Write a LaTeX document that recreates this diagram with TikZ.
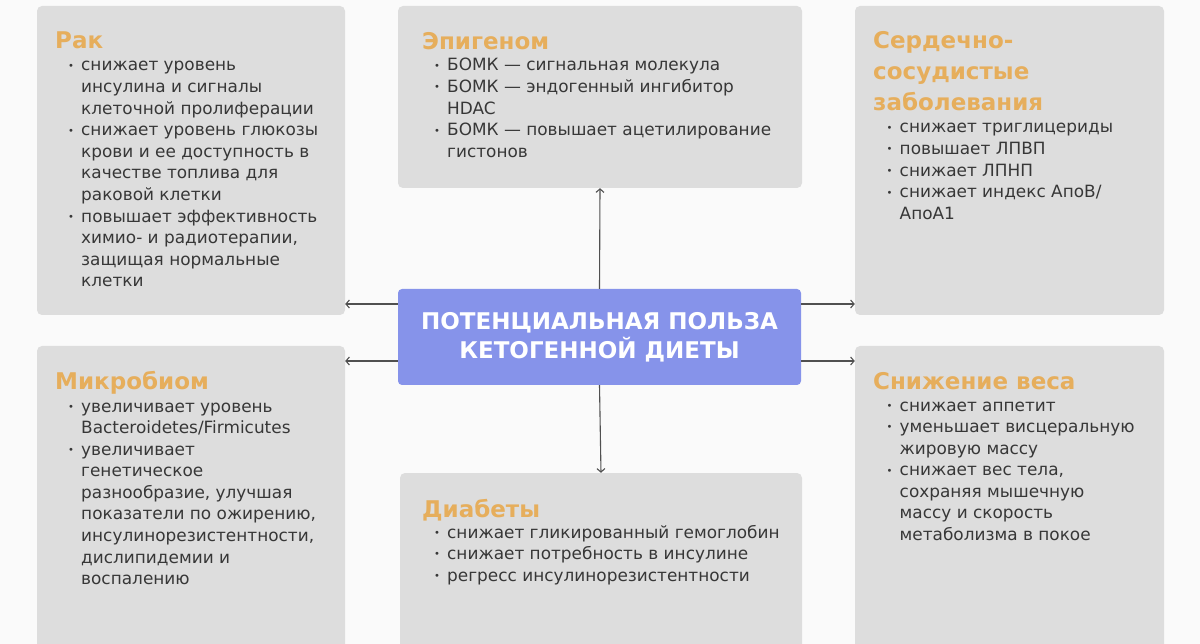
\documentclass[tikz,border=0pt]{standalone}
\usepackage{fontspec}
\setmainfont{DejaVu Sans}
\usetikzlibrary{arrows.meta}
\definecolor{bg}{RGB}{250,250,250}
\definecolor{boxg}{RGB}{221,221,221}
\definecolor{ttl}{RGB}{230,174,92}
\definecolor{txt}{RGB}{55,55,55}
\definecolor{cen}{RGB}{134,147,234}
\definecolor{arrc}{RGB}{80,80,80}
\newcommand\bu{\makebox[13pt][l]{\raisebox{0.1em}{\fontsize{10}{10}\selectfont •}}}
\begin{document}
\begin{tikzpicture}[x=1pt,y=-1pt,
 box/.style={fill=boxg, rounded corners=5pt, inner sep=0pt, draw=none},
 ttlstyle/.style={text=ttl, font=\bfseries\fontsize{23}{31}\selectfont, inner sep=0pt, anchor=base west},
 body/.style={text=txt, font=\fontsize{16.9}{21.6}\selectfont, inner sep=0pt, anchor=base west},
 arr/.style={draw=arrc, line width=1.1pt, -{Straight Barb[length=3.5pt,width=8pt]}},
 cenbox/.style={fill=cen, rounded corners=4pt, text=white, font=\bfseries\fontsize{23}{29}\selectfont, align=center, inner sep=0pt}
]
\fill[bg] (0,0) rectangle (1200,644);
\begin{scope}
\clip (0,0) rectangle (1200,644);
\node[box, minimum width=308pt, minimum height=309pt] (rak) at (191,160.5) {};
\node[box, minimum width=404pt, minimum height=182pt] (epi) at (600,97) {};
\node[box, minimum width=309pt, minimum height=309pt] (cardio) at (1009.5,160.5) {};
\node[box, minimum width=308pt, minimum height=314pt] (micro) at (191,503) {};
\node[box, minimum width=402pt, minimum height=187pt] (dia) at (601,566.5) {};
\node[box, minimum width=309pt, minimum height=314pt] (weight) at (1009.5,503) {};
\end{scope}
\node[cenbox, minimum width=403pt, minimum height=96pt] (cbox) at (599.5,337) {ПОТЕНЦИАЛЬНАЯ ПОЛЬЗА\\КЕТОГЕННОЙ ДИЕТЫ};

% titles
\node[ttlstyle] (rakT) at (55,49) {Рак};
\node[ttlstyle] (epiT) at (422,50) {Эпигеном};
\node[ttlstyle] (cardioT) at (873,49) {\begin{tabular}[t]{@{}l@{}}Сердечно-\\сосудистые\\заболевания\end{tabular}};
\node[ttlstyle] (microT) at (55,389) {Микробиом};
\node[ttlstyle] (diaT) at (422,517) {Диабеты};
\node[ttlstyle] (weightT) at (873,389) {Снижение веса};

% bodies
\node[body] (rakB) at (68,71) {\begin{tabular}[t]{@{}l@{}l@{}}
\bu & снижает уровень\\
 & инсулина и сигналы\\
 & клеточной пролиферации\\
\bu & снижает уровень глюкозы\\
 & крови и ее доступность в\\
 & качестве топлива для\\
 & раковой клетки\\
\bu & повышает эффективность\\
 & химио- и радиотерапии,\\
 & защищая нормальные\\
 & клетки
\end{tabular}};
\node[body] (epiB) at (434,71) {\begin{tabular}[t]{@{}l@{}l@{}}
\bu & БОМК — сигнальная молекула\\
\bu & БОМК — эндогенный ингибитор\\
 & HDAC\\
\bu & БОМК — повышает ацетилирование\\
 & гистонов
\end{tabular}};
\node[body] (cardioB) at (886.5,133) {\begin{tabular}[t]{@{}l@{}l@{}}
\bu & снижает триглицериды\\
\bu & повышает ЛПВП\\
\bu & снижает ЛПНП\\
\bu & снижает индекс АпоВ/\\
 & АпоА1
\end{tabular}};
\node[body] (microB) at (68,412) {\begin{tabular}[t]{@{}l@{}l@{}}
\bu & увеличивает уровень\\
 & Bacteroidetes/Firmicutes\\
\bu & увеличивает\\
 & генетическое\\
 & разнообразие, улучшая\\
 & показатели по ожирению,\\
 & инсулинорезистентности,\\
 & дислипидемии и\\
 & воспалению
\end{tabular}};
\node[body] (diaB) at (434,538) {\begin{tabular}[t]{@{}l@{}l@{}}
\bu & снижает гликированный гемоглобин\\
\bu & снижает потребность в инсулине\\
\bu & регресс инсулинорезистентности
\end{tabular}};
\node[body] (weightB) at (886.5,411) {\begin{tabular}[t]{@{}l@{}l@{}}
\bu & снижает аппетит\\
\bu & уменьшает висцеральную\\
 & жировую массу\\
\bu & снижает вес тела,\\
 & сохраняя мышечную\\
 & массу и скорость\\
 & метаболизма в покое
\end{tabular}};

% connectors
\coordinate (cl1) at ([yshift=33pt]cbox.west);
\coordinate (cl2) at ([yshift=-24pt]cbox.west);
\coordinate (cr1) at ([yshift=33pt]cbox.east);
\coordinate (cr2) at ([yshift=-24pt]cbox.east);
\draw[arr] (cbox.north) -- (epi.south);
\draw[arr] (cbox.south) -- (dia.north);
\draw[arr] (cl1) -- (rak.east |- cl1);
\draw[arr] (cl2) -- (micro.east |- cl2);
\draw[arr] (cr1) -- (cardio.west |- cr1);
\draw[arr] (cr2) -- (weight.west |- cr2);
\end{tikzpicture}
\end{document}
